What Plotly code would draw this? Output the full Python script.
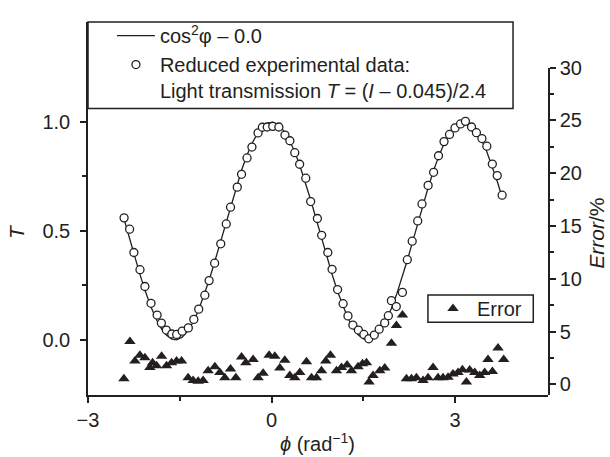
import numpy as np
import plotly.graph_objects as go

# Polarisation angle (rad) and reduced light transmission T = (I - 0.045)/2.4
phi = [-2.41, -2.32, -2.25, -2.15, -2.07, -1.97, -1.87, -1.80, -1.72, -1.63,
       -1.55, -1.46, -1.36, -1.27, -1.19, -1.09, -1.02, -0.93, -0.83, -0.74,
       -0.67, -0.56, -0.49, -0.40, -0.32, -0.22, -0.15, -0.07, 0.02, 0.12,
       0.22, 0.30, 0.38, 0.46, 0.56, 0.64, 0.75, 0.82, 0.92, 0.99,
       1.08, 1.17, 1.25, 1.33, 1.42, 1.51, 1.59, 1.68, 1.76, 1.85,
       1.91, 1.96, 2.04, 2.14, 2.22, 2.30, 2.39, 2.46, 2.56, 2.65,
       2.73, 2.82, 2.91, 3.00, 3.09, 3.17, 3.27, 3.35, 3.44, 3.52,
       3.61, 3.69, 3.77]
transmission = [0.560, 0.508, 0.401, 0.322, 0.245, 0.168, 0.114, 0.077, 0.045, 0.027,
                0.025, 0.040, 0.055, 0.094, 0.141, 0.205, 0.272, 0.352, 0.441, 0.532,
                0.609, 0.701, 0.760, 0.835, 0.885, 0.950, 0.976, 0.977, 0.980, 0.977,
                0.940, 0.914, 0.859, 0.806, 0.742, 0.635, 0.557, 0.480, 0.401, 0.324,
                0.231, 0.166, 0.110, 0.068, 0.045, 0.025, 0.005, 0.022, 0.049, 0.078,
                0.111, 0.180, 0.153, 0.218, 0.368, 0.453, 0.546, 0.624, 0.709, 0.769,
                0.845, 0.910, 0.943, 0.973, 0.991, 1.003, 0.977, 0.951, 0.924, 0.889,
                0.807, 0.754, 0.664]

# Relative error (%) against the cos^2 model
phi_err = [-2.413, -2.315, -2.233, -2.152, -2.070, -1.989, -1.944, -1.879, -1.797, -1.716,
           -1.634, -1.552, -1.471, -1.363, -1.281, -1.199, -1.118, -1.036, -0.926, -0.845,
           -0.763, -0.670, -0.583, -0.490, -0.420, -0.301, -0.219, -0.137, -0.039, 0.054,
           0.136, 0.217, 0.299, 0.381, 0.462, 0.572, 0.654, 0.735, 0.817, 0.887,
           0.964, 1.062, 1.144, 1.235, 1.307, 1.415, 1.487, 1.552, 1.595, 1.660,
           1.770, 1.851, 1.961, 2.042, 2.141, 2.206, 2.288, 2.369, 2.477, 2.559,
           2.641, 2.722, 2.804, 2.886, 2.967, 3.049, 3.121, 3.186, 3.240, 3.322,
           3.404, 3.485, 3.539, 3.611, 3.703, 3.796]
error_pct = [0.52, 4.05, 2.21, 2.76, 2.51, 1.59, 2.05, 1.75, 2.67, 1.75,
             2.05, 2.21, 2.21, 0.62, 0.37, 0.30, 0.37, 1.29, 1.66, 1.13,
             0.62, 1.44, 0.62, 2.58, 2.05, 2.36, 0.62, 1.04, 2.76, 2.67,
             1.54, 2.27, 0.83, 0.62, 1.13, 2.14, 0.62, 0.62, 1.29, 2.21,
             2.76, 1.29, 1.59, 1.84, 1.29, 1.66, 1.96, 2.05, 0.21, 0.83,
             1.29, 1.54, 3.89, 5.58, 6.56, 0.52, 0.52, 0.62, 0.37, 0.62,
             1.59, 0.62, 0.62, 0.67, 0.98, 1.13, 1.38, 0.21, 1.35, 1.13,
             0.83, 1.13, 2.36, 1.22, 3.43, 2.36]

x_ticks = [-3, 0, 3]
t_ticks = [0.0, 0.5, 1.0]
err_ticks = [0, 5, 10, 15, 20, 25, 30]

# Model curve cos^2(phi) - offset, evaluated at the measured angles
OFFSET = 0.0
t_model = np.cos(np.array(phi)) ** 2 - OFFSET

INK = "#231f20"
FONT = "Liberation Sans, Arial, Helvetica, sans-serif"

fig = go.Figure()
fig.add_trace(go.Scatter(
    x=phi, y=t_model, mode="lines",
    line=dict(color=INK, width=1.3),
    name="cos<sup>2</sup>φ – 0.0", legend="legend"))
fig.add_trace(go.Scatter(
    x=phi, y=transmission, mode="markers",
    marker=dict(symbol="circle", size=8, color="white",
                line=dict(color=INK, width=1.3)),
    name="Reduced experimental data:<br>Light transmission <i>T</i> = (<i>I</i> – 0.045)/2.4",
    legend="legend"))
fig.add_trace(go.Scatter(
    x=phi_err, y=error_pct, mode="markers", yaxis="y2",
    marker=dict(symbol="triangle-up", size=10, color=INK),
    name="Error", legend="legend2"))

axis_common = dict(showline=True, linecolor=INK, linewidth=1.5, showgrid=False,
                   zeroline=False, ticks="outside", tickcolor=INK, tickwidth=1.5,
                   ticklen=6, tickfont=dict(size=20, color=INK, family=FONT))

# Frames around the two legends
legend_frames = [
    dict(type="rect", xref="paper", yref="paper", x0=0, x1=0.924, y0=0.768, y1=1.0,
         line=dict(color=INK, width=1.5), fillcolor="rgba(0,0,0,0)", layer="above"),
    dict(type="rect", xref="paper", yref="paper", x0=0.739, x1=0.968, y0=0.195, y1=0.268,
         line=dict(color=INK, width=1.5), fillcolor="white", layer="below"),
]

fig.update_layout(
    width=610, height=457,
    margin=dict(l=88, r=62, t=11, b=62),
    paper_bgcolor="white", plot_bgcolor="rgba(0,0,0,0)",
    font=dict(family=FONT, size=20, color=INK),
    xaxis=dict(range=[-3, 4.52], tickvals=x_ticks, anchor="y",
               minor=dict(tickvals=[-1.5, 1.5], ticks="outside", ticklen=4,
                          tickcolor=INK, tickwidth=1.5),
               **axis_common),
    yaxis=dict(domain=[0, 1], range=[-0.253, 1.459], tickvals=t_ticks,
               tickformat=".1f", anchor="x",
               minor=dict(tickvals=[0.25, 0.75], ticks="outside", ticklen=4,
                          tickcolor=INK, tickwidth=1.5),
               ticklabelstandoff=6, **axis_common),
    yaxis2=dict(domain=[0, 0.8776], range=[-1.012, 30], tickvals=err_ticks,
                anchor="x", side="right",
                minor=dict(tickvals=[2.5, 7.5, 12.5, 17.5, 22.5, 27.5], ticks="outside",
                           ticklen=4, tickcolor=INK, tickwidth=1.5),
                **axis_common),
    legend=dict(x=0.052, y=1.016, xanchor="left", yanchor="top",
                bgcolor="rgba(0,0,0,0)", borderwidth=0, valign="top", itemwidth=38,
                font=dict(size=20, color=INK, family=FONT), tracegroupgap=0),
    legend2=dict(x=0.7413, y=0.284, xanchor="left", yanchor="top",
                 bgcolor="rgba(0,0,0,0)", borderwidth=0, itemwidth=38,
                 font=dict(size=20, color=INK, family=FONT)),
    showlegend=True,
    shapes=legend_frames,
    annotations=[
        dict(text="<i>T</i>", xref="paper", yref="paper", x=-0.154, y=0.4375,
             xanchor="center", yanchor="middle",
             textangle=-90, showarrow=False, font=dict(size=21)),
        dict(text="<i>Error</i>/%", xref="paper", yref="paper", x=1.1065, y=0.435,
             xanchor="center", yanchor="middle",
             textangle=-90, showarrow=False, font=dict(size=21)),
        dict(text="<i>ϕ</i> (rad<sup>−1</sup>)", xref="paper", yref="paper",
             x=0.498, y=-0.128, xanchor="center", yanchor="middle",
             showarrow=False, font=dict(size=20)),
    ],
)

fig.write_html("out.html")
